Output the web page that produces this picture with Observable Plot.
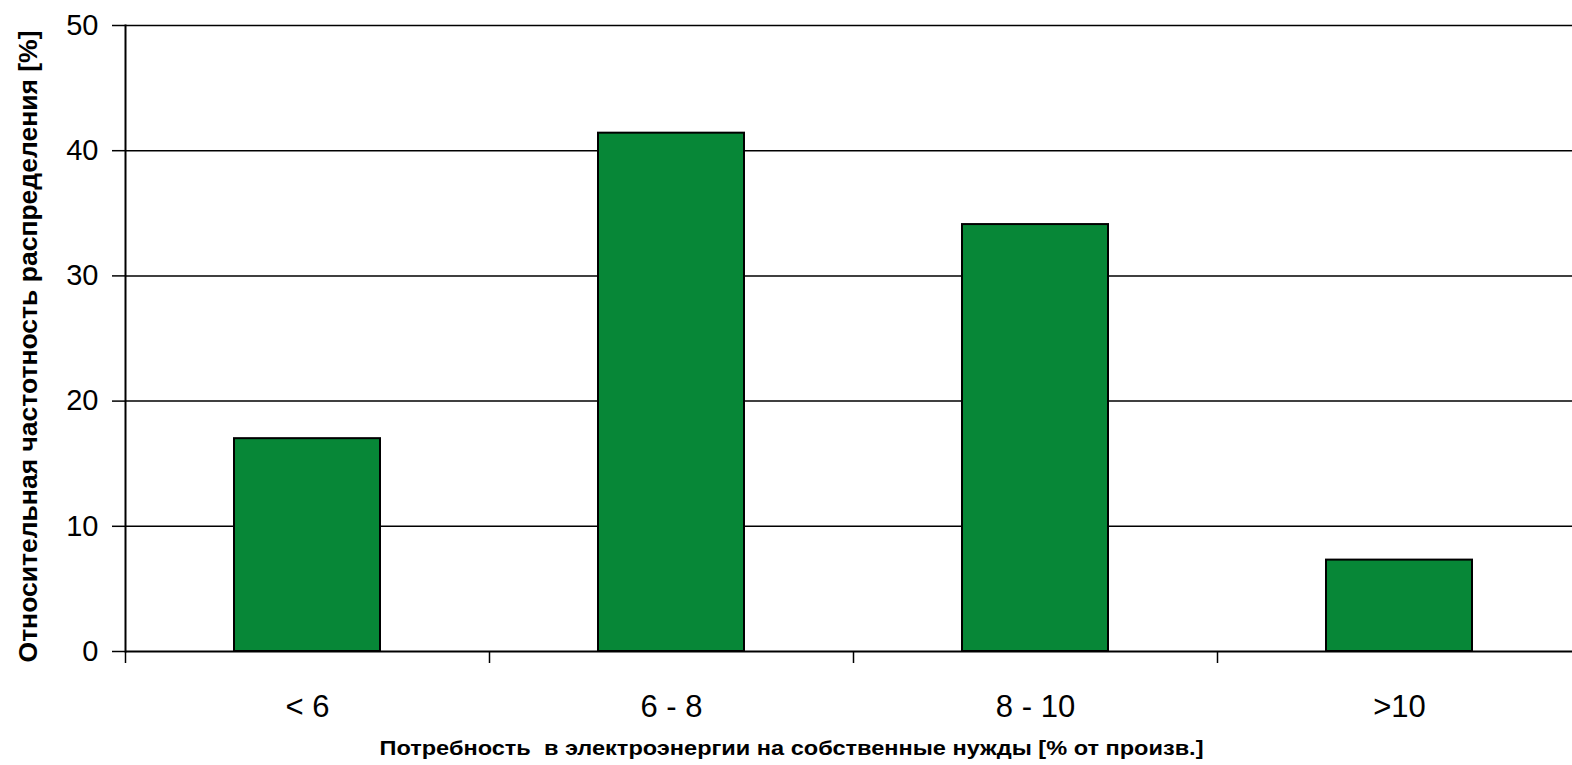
<!DOCTYPE html>
<html><head><meta charset="utf-8">
<script src="https://cdn.jsdelivr.net/npm/d3@7"></script>
<script src="https://cdn.jsdelivr.net/npm/@observablehq/plot@0.6"></script>
<style>body{margin:0;background:#fff;} #wrap{width:1572px;height:765px;overflow:hidden;} #wrap svg{max-width:none !important;}</style>
</head><body><div id="wrap"></div>
<script>
const categories = ["< 6", "6 - 8", "8 - 10", ">10"];
const values = [17.0, 41.4, 34.1, 7.3];
const yTicks = [0, 10, 20, 30, 40, 50];
const xTitle = "Потребность  в электроэнергии на собственные нужды [% от произв.]";
const yTitle = "Относительная частотность распределения [%]";
const data = categories.map((c, i) => ({category: c, value: values[i]}));

const W = 1581, H = 765, ML = 125, MT = 25, MB = 114;
const step = (W - ML) / categories.length;

const chart = Plot.plot({
  width: W, height: H, marginLeft: ML, marginRight: 0, marginTop: MT, marginBottom: MB,
  style: {fontFamily: "'Liberation Sans', Arial, sans-serif", background: "#fff", color: "#000", maxWidth: "none"},
  x: {domain: categories, paddingInner: 0.6, paddingOuter: 0.3, align: 0.5},
  y: {domain: [0, 50]},
  marks: [
    Plot.gridY(yTicks.slice(1), {stroke: "#000", strokeOpacity: 1, strokeWidth: 1.5}),
    Plot.axisY(yTicks, {tickSize: 13, tickPadding: 14, fontSize: 29, label: null, stroke: "#000", strokeWidth: 1.5}),
    Plot.axisX(categories, {tickSize: 12, fill: "none", dx: -step / 2, label: null, stroke: "#000", strokeWidth: 1.5}),
    Plot.axisX(categories, {tickSize: 0, tickPadding: 43, fontSize: 31, label: null}),
    Plot.barY(data, {x: "category", y: "value", fill: "#078737", stroke: "#000", strokeWidth: 2}),
    Plot.ruleY([0], {stroke: "#000", strokeWidth: 2}),
    Plot.frame({anchor: "left", stroke: "#000", strokeWidth: 2}),
    Plot.text([xTitle], {frameAnchor: "bottom", textAnchor: "middle", lineAnchor: "middle", dx: -62, dy: 97, fontSize: 21, fontWeight: "bold"}),
    Plot.text([yTitle], {frameAnchor: "left", textAnchor: "middle", lineAnchor: "middle", rotate: -90, dx: -97, dy: 8, fontSize: 26, fontWeight: "bold"})
  ]
});
chart.style.maxWidth = "none";

d3.select(chart).selectAll("text").each(function () {
  const t = this.textContent;
  if (t === xTitle) { this.setAttribute("textLength", 824); this.setAttribute("lengthAdjust", "spacingAndGlyphs"); }
  if (t === yTitle) { this.setAttribute("textLength", 632); this.setAttribute("lengthAdjust", "spacingAndGlyphs"); }
});

document.getElementById("wrap").append(chart);
</script>
</body></html>
